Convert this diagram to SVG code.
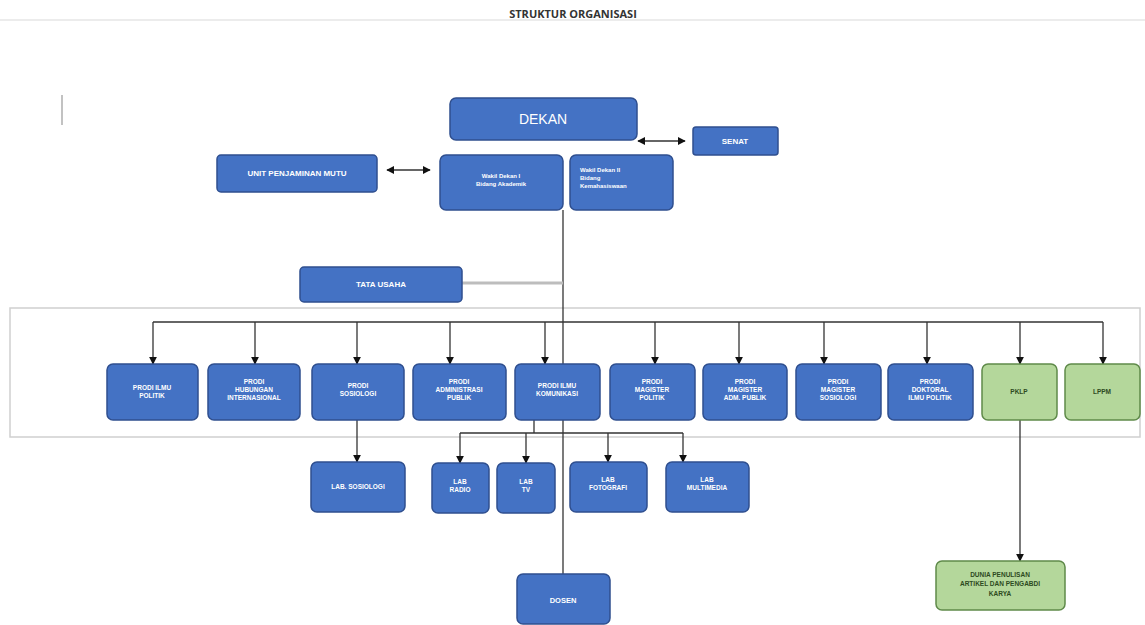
<svg xmlns="http://www.w3.org/2000/svg" width="1145" height="625" viewBox="0 0 1145 625">
<style>
.b{fill:#4472c4;stroke:#2f4f8f;stroke-width:1.5}
.g{fill:#b4d79b;stroke:#5f8a4a;stroke-width:1.5}
.t{font-family:"Liberation Sans",Arial,sans-serif;font-size:6.5px;fill:#ffffff;text-anchor:middle;font-weight:bold}
.tg{font-family:"Liberation Sans",Arial,sans-serif;font-size:6.5px;fill:#2d4a1e;text-anchor:middle;font-weight:bold}
.c{stroke:#333;stroke-width:1.3;fill:none}
</style>
<defs>
<marker id="a" viewBox="0 0 10 10" refX="9" refY="5" markerWidth="6" markerHeight="6" orient="auto-start-reverse"><path d="M0,0L10,5L0,10z" fill="#111"/></marker>
</defs>
<rect width="1145" height="625" fill="#ffffff"/>
<line x1="0" y1="20" x2="1145" y2="20" stroke="#ececec" stroke-width="2"/>
<line x1="62" y1="95" x2="62" y2="125" stroke="#999" stroke-width="1.2"/>
<text x="573" y="18" font-family="'Open Sans','Liberation Sans',sans-serif" font-size="11" font-weight="bold" fill="#333" text-anchor="middle">STRUKTUR ORGANISASI</text>
<rect x="10" y="308" width="1130" height="129" fill="none" stroke="#cfcfcf" stroke-width="1.5"/>
<g id="connectors">
<line class="c" x1="638" y1="141" x2="685" y2="141" marker-start="url(#a)" marker-end="url(#a)"/>
<line class="c" x1="387" y1="170" x2="430" y2="170" marker-start="url(#a)" marker-end="url(#a)"/>
<line class="c" x1="563" y1="210" x2="563" y2="574"/>
<line x1="462" y1="283" x2="563" y2="283" stroke="#bdbdbd" stroke-width="3"/>
<line class="c" x1="153" y1="322" x2="1103" y2="322"/>
<line class="c" x1="153" y1="322" x2="153" y2="364" marker-end="url(#a)"/>
<line class="c" x1="255" y1="322" x2="255" y2="364" marker-end="url(#a)"/>
<line class="c" x1="357" y1="322" x2="357" y2="364" marker-end="url(#a)"/>
<line class="c" x1="450" y1="322" x2="450" y2="364" marker-end="url(#a)"/>
<line class="c" x1="545" y1="322" x2="545" y2="364" marker-end="url(#a)"/>
<line class="c" x1="655" y1="322" x2="655" y2="364" marker-end="url(#a)"/>
<line class="c" x1="739" y1="322" x2="739" y2="364" marker-end="url(#a)"/>
<line class="c" x1="824" y1="322" x2="824" y2="364" marker-end="url(#a)"/>
<line class="c" x1="927" y1="322" x2="927" y2="364" marker-end="url(#a)"/>
<line class="c" x1="1020" y1="322" x2="1020" y2="364" marker-end="url(#a)"/>
<line class="c" x1="1103" y1="322" x2="1103" y2="364" marker-end="url(#a)"/>
<line class="c" x1="357" y1="420" x2="357" y2="462" marker-end="url(#a)"/>
<line class="c" x1="534" y1="420" x2="534" y2="433"/>
<line class="c" x1="460" y1="433" x2="683" y2="433"/>
<line class="c" x1="460" y1="433" x2="460" y2="463" marker-end="url(#a)"/>
<line class="c" x1="526" y1="433" x2="526" y2="463" marker-end="url(#a)"/>
<line class="c" x1="608" y1="433" x2="608" y2="462" marker-end="url(#a)"/>
<line class="c" x1="683" y1="433" x2="683" y2="462" marker-end="url(#a)"/>
<line class="c" x1="1020" y1="420" x2="1020" y2="561" marker-end="url(#a)"/>
</g>
<g id="dekan"><rect class="b" x="450" y="98" width="187" height="42" rx="6"/><text class="t" x="543" y="124" style="font-size:14px;font-weight:normal">DEKAN</text></g>
<g id="senat"><rect class="b" x="693" y="127" width="85" height="28" rx="3"/><text class="t" x="735" y="144" style="font-size:8px">SENAT</text></g>
<g id="upm"><rect class="b" x="217" y="155" width="160" height="37" rx="4"/><text class="t" x="297" y="176" style="font-size:8px">UNIT PENJAMINAN MUTU</text></g>
<g id="wd1"><rect class="b" x="440" y="155" width="123" height="55" rx="6"/><text class="t" x="501" y="178" style="font-size:6px">Wakil Dekan I</text><text class="t" x="501" y="186" style="font-size:6px">Bidang Akademik</text></g>
<g id="wd2"><rect class="b" x="570" y="155" width="103" height="55" rx="6"/><text class="t" x="580" y="172" style="font-size:6px;text-anchor:start">Wakil Dekan II</text><text class="t" x="580" y="180" style="font-size:6px;text-anchor:start">Bidang</text><text class="t" x="580" y="188" style="font-size:6px;text-anchor:start">Kemahasiswaan</text></g>
<g id="tu"><rect class="b" x="300" y="267" width="162" height="35" rx="4"/><text class="t" x="381" y="287" style="font-size:8px">TATA USAHA</text></g>
<g id="p1"><rect class="b" x="107" y="364" width="91" height="56" rx="6"/><text class="t" x="152" y="390">PRODI ILMU</text><text class="t" x="152" y="398">POLITIK</text></g>
<g id="p2"><rect class="b" x="208" y="364" width="92" height="56" rx="6"/><text class="t" x="254" y="384">PRODI</text><text class="t" x="254" y="392">HUBUNGAN</text><text class="t" x="254" y="400">INTERNASIONAL</text></g>
<g id="p3"><rect class="b" x="312" y="364" width="92" height="56" rx="6"/><text class="t" x="358" y="388">PRODI</text><text class="t" x="358" y="396">SOSIOLOGI</text></g>
<g id="p4"><rect class="b" x="413" y="364" width="93" height="56" rx="6"/><text class="t" x="459" y="384">PRODI</text><text class="t" x="459" y="392">ADMINISTRASI</text><text class="t" x="459" y="400">PUBLIK</text></g>
<g id="p5"><rect class="b" x="515" y="364" width="85" height="56" rx="6"/><text class="t" x="557" y="388">PRODI ILMU</text><text class="t" x="557" y="396">KOMUNIKASI</text></g>
<g id="p6"><rect class="b" x="610" y="364" width="85" height="56" rx="6"/><text class="t" x="652" y="384">PRODI</text><text class="t" x="652" y="392">MAGISTER</text><text class="t" x="652" y="400">POLITIK</text></g>
<g id="p7"><rect class="b" x="703" y="364" width="84" height="56" rx="6"/><text class="t" x="745" y="384">PRODI</text><text class="t" x="745" y="392">MAGISTER</text><text class="t" x="745" y="400">ADM. PUBLIK</text></g>
<g id="p8"><rect class="b" x="796" y="364" width="85" height="56" rx="6"/><text class="t" x="838" y="384">PRODI</text><text class="t" x="838" y="392">MAGISTER</text><text class="t" x="838" y="400">SOSIOLOGI</text></g>
<g id="p9"><rect class="b" x="888" y="364" width="85" height="56" rx="6"/><text class="t" x="930" y="384">PRODI</text><text class="t" x="930" y="392">DOKTORAL</text><text class="t" x="930" y="400">ILMU POLITIK</text></g>
<g id="pklp"><rect class="g" x="982" y="364" width="75" height="56" rx="6"/><text class="tg" x="1019" y="394">PKLP</text></g>
<g id="lppm"><rect class="g" x="1065" y="364" width="75" height="56" rx="6"/><text class="tg" x="1102" y="394">LPPM</text></g>
<g id="labsos"><rect class="b" x="311" y="462" width="94" height="50" rx="6"/><text class="t" x="358" y="489">LAB. SOSIOLOGI</text></g>
<g id="labradio"><rect class="b" x="432" y="463" width="57" height="50" rx="6"/><text class="t" x="460" y="484">LAB</text><text class="t" x="460" y="492">RADIO</text></g>
<g id="labtv"><rect class="b" x="497" y="463" width="58" height="50" rx="6"/><text class="t" x="526" y="484">LAB</text><text class="t" x="526" y="492">TV</text></g>
<g id="labfoto"><rect class="b" x="570" y="462" width="77" height="50" rx="6"/><text class="t" x="608" y="482">LAB</text><text class="t" x="608" y="490">FOTOGRAFI</text></g>
<g id="labmm"><rect class="b" x="666" y="462" width="83" height="50" rx="6"/><text class="t" x="707" y="482">LAB</text><text class="t" x="707" y="490">MULTIMEDIA</text></g>
<g id="dosen"><rect class="b" x="517" y="574" width="93" height="50" rx="6"/><text class="t" x="563" y="603" style="font-size:7.5px">DOSEN</text></g>
<g id="dunia"><rect class="g" x="936" y="561" width="129" height="49" rx="6"/><text class="tg" x="1000" y="577">DUNIA PENULISAN</text><text class="tg" x="1000" y="586">ARTIKEL DAN PENGABDI</text><text class="tg" x="1000" y="596">KARYA</text></g>
</svg>
